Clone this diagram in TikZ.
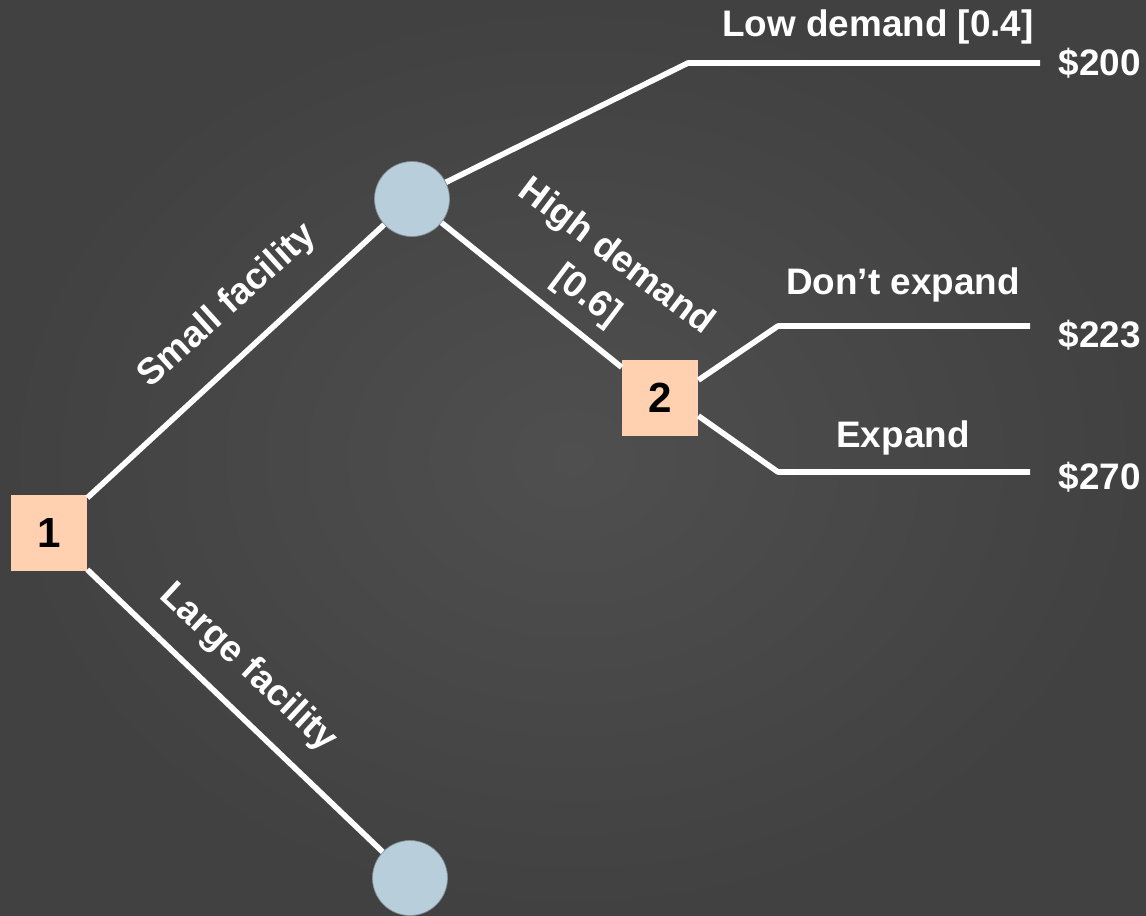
\documentclass[tikz,border=0pt]{standalone}
\usepackage{fontspec}
\setmainfont{Liberation Sans}
\usetikzlibrary{positioning}
\definecolor{bgIn}{HTML}{4F4F4F}
\definecolor{bgOut}{HTML}{414141}
\definecolor{peach}{HTML}{FFD1B0}
\definecolor{steel}{HTML}{B8CEDA}
\tikzset{
  decision/.style={fill=peach,minimum size=1.52cm,inner sep=0pt,text=black,
    font=\bfseries\fontsize{24}{28}\selectfont},
  chance/.style={circle,fill=steel,draw=steel!70!black,thin,minimum size=1.5cm,inner sep=0pt},
  branch/.style={white,line width=3.2pt,line join=round},
  lbl/.style={text=white,inner sep=2pt,align=center,
    font=\bfseries\fontsize{21}{28}\selectfont},
  payoff/.style={lbl,anchor=west},
}

\begin{document}
\begin{tikzpicture}[x=0.02cm,y=-0.02cm]
  % background
  \shade[inner color=bgIn,outer color=bgOut] (0,0) rectangle (1146,916);
  \useasboundingbox (0,0) rectangle (1146,916);
  % decision and chance nodes
  \node[decision] (d1) at (49,533) {1};
  \node[chance] (c1) at (412,199) {};
  \node[chance] (c2) at (410,878) {};
  \node[decision] (d2) at (660,398) {2};
  % bends and line ends
  \coordinate (b1) at (688,63);
  \coordinate (b2) at (778,326);
  \coordinate (b3) at (778,472);
  \coordinate (e200) at (1040,63);
  \coordinate (e223) at (1030,326);
  \coordinate (e270) at (1030,472);
  % payoffs
  \node[payoff,right=3mm of e200] (p200) {\$200};
  \node[payoff,right=5mm of e223,yshift=-5pt] (p223) {\$223};
  \node[payoff,right=5mm of e270,yshift=-3pt] (p270) {\$270};
  % branches
  \draw[branch] (d1) -- (c1);
  \draw[branch] (d1) -- (c2);
  \draw[branch] (c1) -- (b1) -- (e200);
  \draw[branch] (c1) -- (d2);
  \draw[branch] (d2.25) -- (b2) -- (e223);
  \draw[branch] (d2.-25) -- (b3) -- (e270);
  % branch labels
  \node[lbl,rotate=42] (small) at (228,306) {Small facility};
  \node[lbl,rotate=-43] (large) at (248,668) {Large facility};
  \node[lbl,rotate=-37] (high) at (601,277) {High demand\\{[0.6]}};
  \node[lbl] (low) at (878,27) {Low demand [0.4]};
  \node[lbl] (keep) at (903,285) {Don’t expand};
  \node[lbl] (grow) at (903,438) {Expand};
\end{tikzpicture}
\end{document}
